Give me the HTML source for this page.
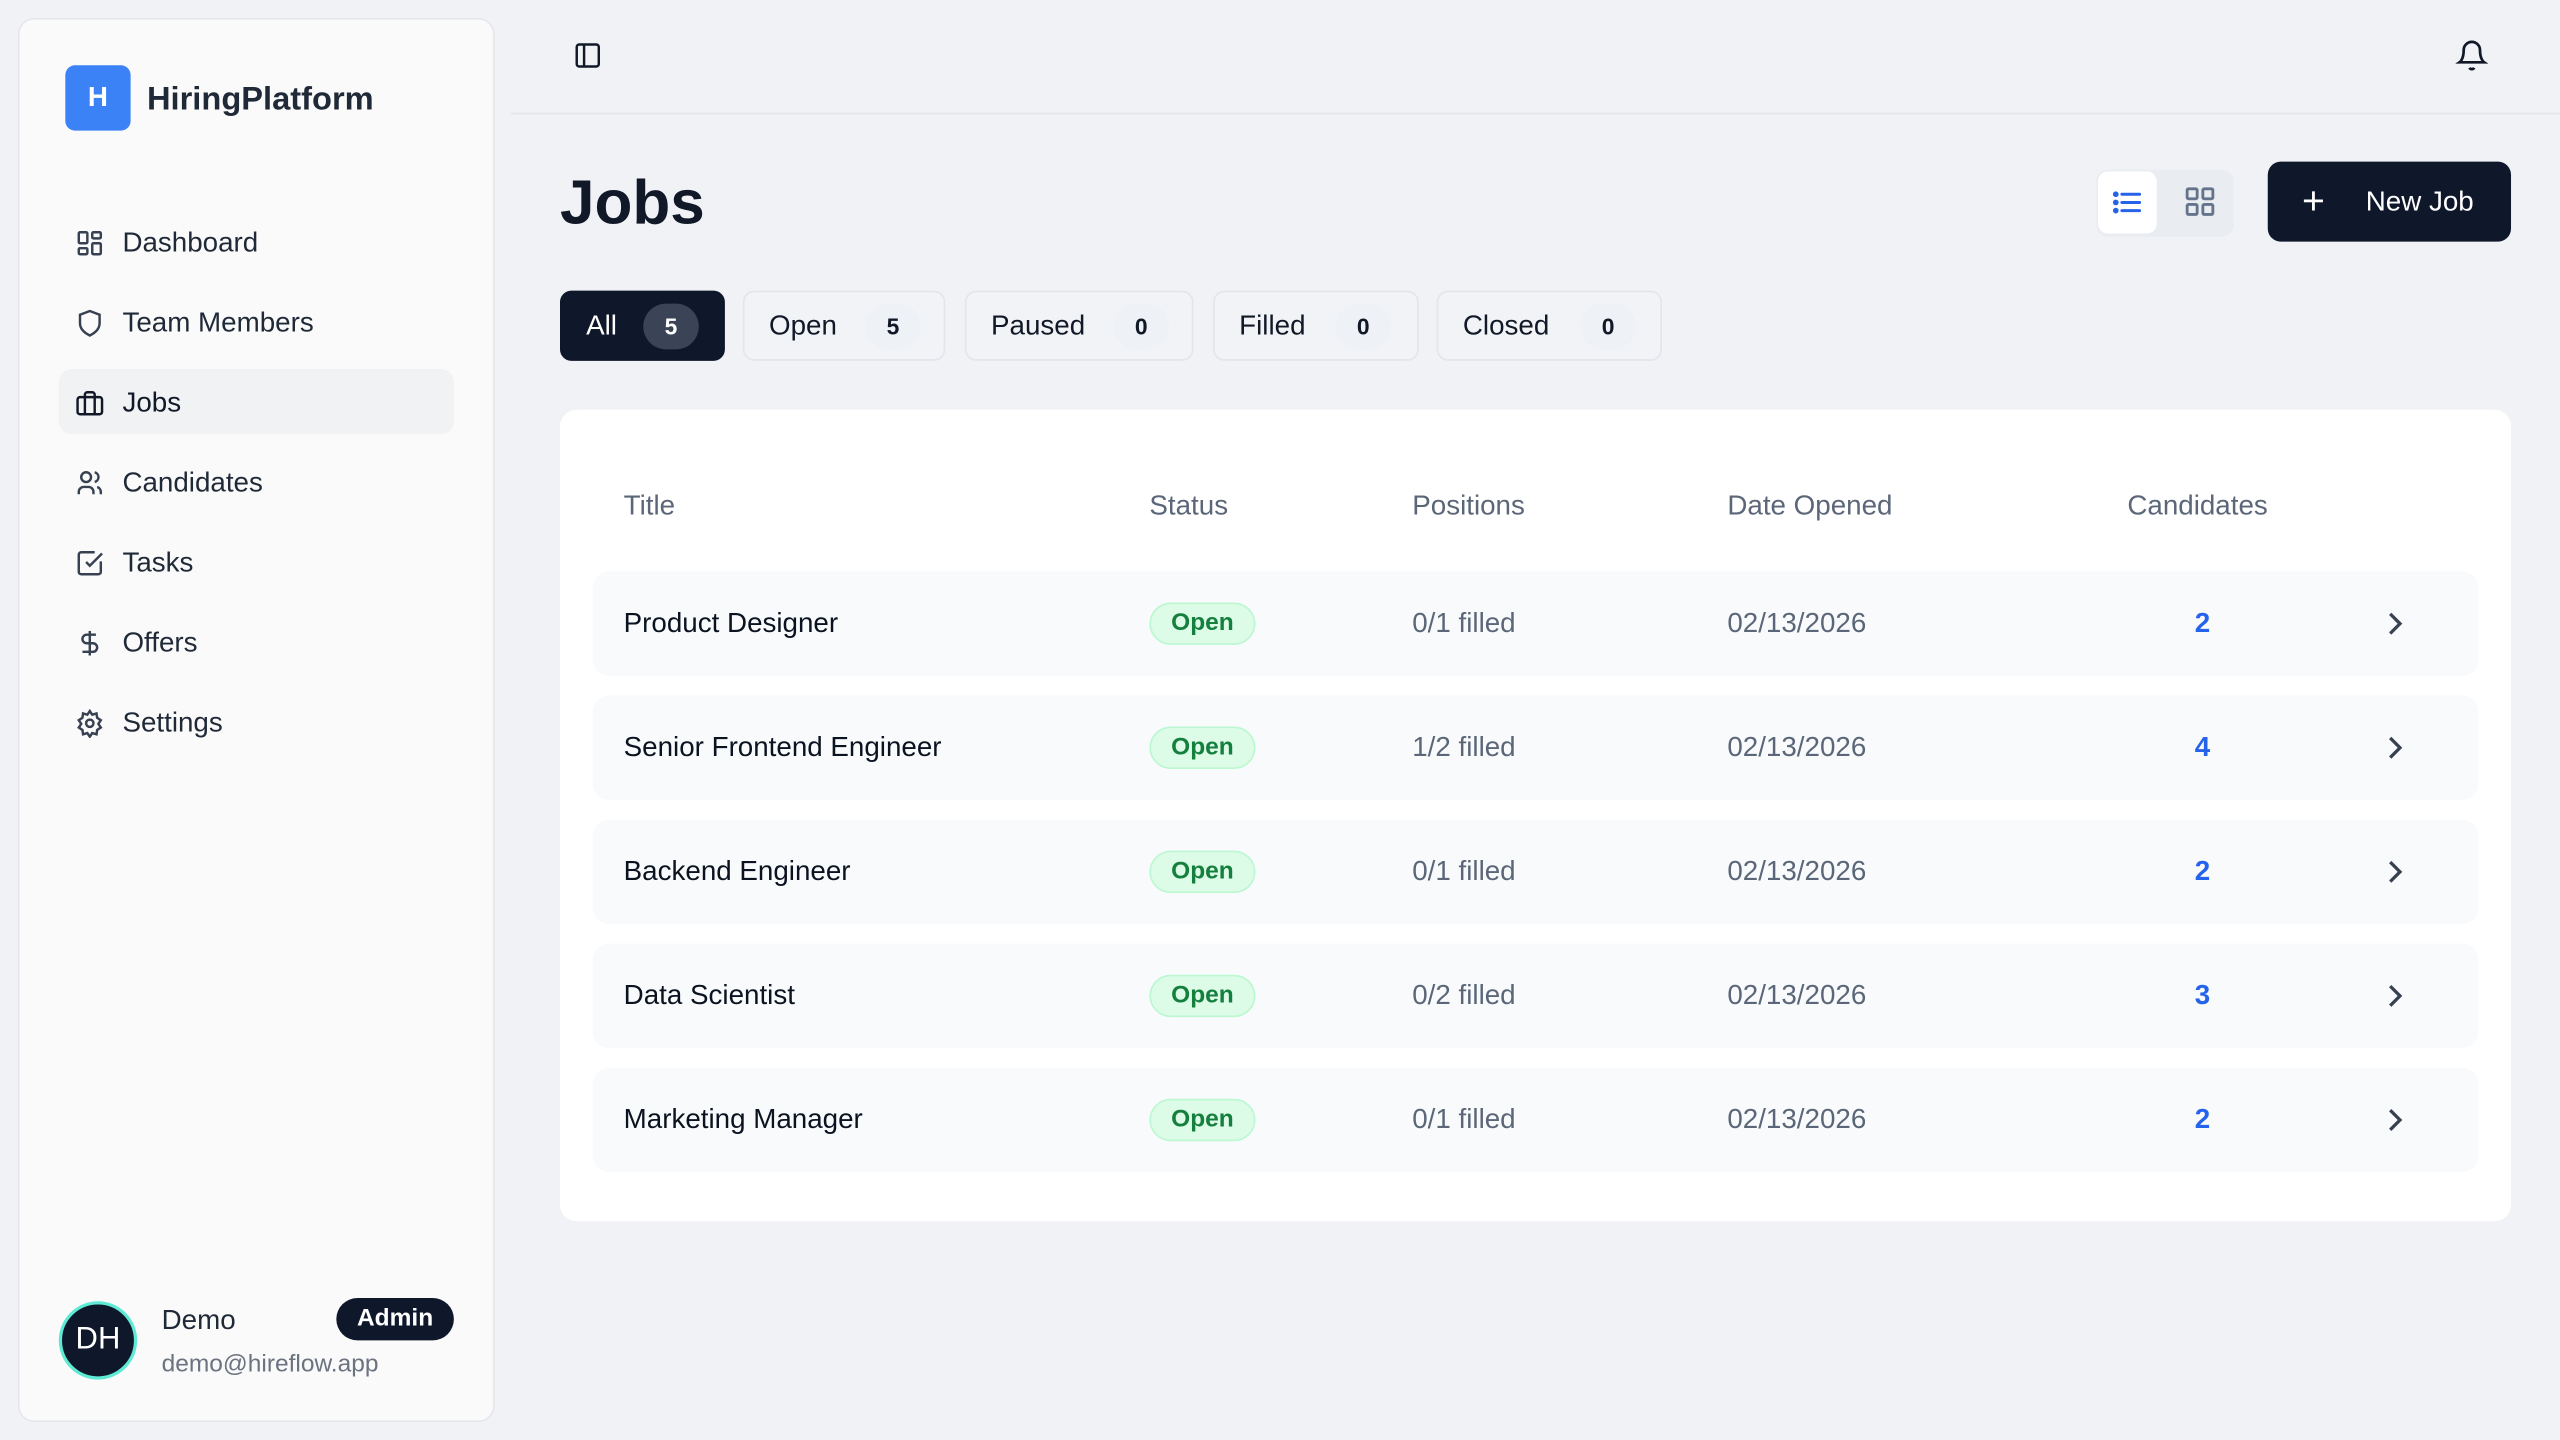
<!DOCTYPE html>
<html><head><meta charset="utf-8"><style>
*{box-sizing:border-box;margin:0;padding:0}
html,body{width:2560px;height:1440px;overflow:hidden;background:#f0f2f5}
#w{width:1568px;height:882px;position:relative;transform:scale(1.632653);transform-origin:0 0;font-family:"Liberation Sans",sans-serif;color:#111827}
.a{position:absolute}
.side{left:11px;top:11px;width:292px;height:860px;background:#fafafa;border:1px solid #e5e7eb;border-radius:10px}
.nav{position:absolute;left:46px;height:20px;font-size:17px;color:#1f2937;display:flex;align-items:center;gap:11px}
.nav svg{width:18px;height:18px}
.tab{position:absolute;top:178px;height:43px;border:1px solid #e2e5ea;background:#f1f3f6;border-radius:7px;font-size:17px;color:#111827;display:flex;align-items:center;padding-left:15px}
.cnt{position:absolute;width:34px;height:28px;border-radius:14px;background:#eef1f5;font-size:14px;font-weight:700;display:flex;align-items:center;justify-content:center;top:7px}
.th{position:absolute;top:300px;font-size:17px;color:#5b6779}
.row{position:absolute;left:363px;width:1155px;height:64px;background:#f8fafc;border-radius:10px}
.row div{position:absolute;top:0;height:64px;display:flex;align-items:center;font-size:17px}
.t{left:19px;color:#0b1220}
.b{left:341px}
.b span{display:inline-block;width:65px;height:26px;border-radius:13px;background:#dcfce7;border:1px solid #bbf7d0;color:#15803d;font-weight:700;font-size:15px;text-align:center;line-height:24px}
.p{left:502px;color:#5b6779}
.d{left:695px;color:#5b6779}
.c{left:966px;width:40px;justify-content:center;color:#2563eb;font-weight:700}
.ch{left:1097px}
</style></head><body><div id="w">
<div class="a side"></div>
<div class="a" style="left:40px;top:40px;width:40px;height:40px;background:#3b82f6;border-radius:6px;color:#fff;font-weight:700;font-size:17px;text-align:center;line-height:40px">H</div>
<div class="a" style="left:90px;top:50px;font-size:20px;font-weight:700;color:#1f2937">HiringPlatform</div>
<div class="a" style="left:36px;top:226px;width:242px;height:40px;background:#f1f2f4;border-radius:8px"></div>
<div class="nav" style="top:139px"><svg viewBox="0 0 24 24" fill="none" stroke="#374151" stroke-width="2"><rect x="3" y="3" width="7" height="9" rx="1"/><rect x="14" y="3" width="7" height="5" rx="1"/><rect x="14" y="12" width="7" height="9" rx="1"/><rect x="3" y="16" width="7" height="5" rx="1"/></svg>Dashboard</div>
<div class="nav" style="top:188px"><svg viewBox="0 0 24 24" fill="none" stroke="#374151" stroke-width="2"><path d="M12 2l8 3v7c0 5-4 8-8 10-4-2-8-5-8-10V5z"/></svg>Team Members</div>
<div class="nav" style="top:237px;color:#111827"><svg viewBox="0 0 24 24" fill="none" stroke="#111827" stroke-width="2"><rect x="2" y="7" width="20" height="14" rx="2"/><path d="M16 21V5a2 2 0 0 0-2-2h-4a2 2 0 0 0-2 2v16"/></svg>Jobs</div>
<div class="nav" style="top:286px"><svg viewBox="0 0 24 24" fill="none" stroke="#374151" stroke-width="2"><circle cx="9" cy="7" r="4"/><path d="M3 21v-2a4 4 0 0 1 4-4h4a4 4 0 0 1 4 4v2M16 3.1a4 4 0 0 1 0 7.8M21 21v-2a4 4 0 0 0-3-3.9"/></svg>Candidates</div>
<div class="nav" style="top:335px"><svg viewBox="0 0 24 24" fill="none" stroke="#374151" stroke-width="2"><path d="M21 10.5V19a2 2 0 0 1-2 2H5a2 2 0 0 1-2-2V5a2 2 0 0 1 2-2h11"/><path d="M9 11l3 3L22 4"/></svg>Tasks</div>
<div class="nav" style="top:384px"><svg viewBox="0 0 24 24" fill="none" stroke="#374151" stroke-width="2"><path d="M12 2v20M17 5H9.5a3.5 3.5 0 0 0 0 7h5a3.5 3.5 0 0 1 0 7H6"/></svg>Offers</div>
<div class="nav" style="top:433px"><svg viewBox="0 0 24 24" fill="none" stroke="#374151" stroke-width="2"><circle cx="12" cy="12" r="3"/><path d="M12 2l2 3 3.5-1 .5 3.5 3 2-2 3 2 3-3 2-.5 3.5-3.5-1-2 3-2-3-3.5 1L6 17.5l-3-2 2-3-2-3 3-2L6.5 4 10 5z"/></svg>Settings</div>
<div class="a" style="left:36px;top:797px;width:48px;height:48px;border-radius:50%;background:#0f172a;border:2px solid #5eead4;color:#fff;font-size:19px;text-align:center;line-height:44px">DH</div>
<div class="a" style="left:99px;top:799px;font-size:17px;color:#1f2937">Demo</div>
<div class="a" style="left:206px;top:795px;width:72px;height:26px;border-radius:13px;background:#0f172a;color:#fff;font-size:15px;font-weight:700;text-align:center;line-height:26px">Admin</div>
<div class="a" style="left:99px;top:827px;font-size:15px;color:#6b7280">demo@hireflow.app</div>
<svg class="a" style="left:351px;top:25px" width="18" height="18" viewBox="0 0 24 24" fill="none" stroke="#111827" stroke-width="2"><rect x="3" y="3" width="18" height="18" rx="2"/><path d="M9 3v18"/></svg>
<svg class="a" style="left:1504px;top:24px" width="20" height="20" viewBox="0 0 24 24" fill="none" stroke="#111827" stroke-width="2"><path d="M6 8a6 6 0 0 1 12 0c0 7 3 9 3 9H3s3-2 3-9M10.3 21a1.9 1.9 0 0 0 3.4 0"/></svg>
<div class="a" style="left:313px;top:69px;width:1255px;height:1px;background:#e2e5e9"></div>
<div class="a" style="left:343px;top:104px;font-size:38px;font-weight:700;color:#111827">Jobs</div>
<div class="a" style="left:1284px;top:104px;width:84px;height:41px;background:#e9ecf0;border-radius:7px"></div>
<div class="a" style="left:1285px;top:105px;width:36px;height:38px;background:#fff;border-radius:6px"></div>
<svg class="a" style="left:1293px;top:114px" width="20" height="20" viewBox="0 0 24 24" fill="none" stroke="#2563eb" stroke-width="2.2" stroke-linecap="round"><path d="M8 6h13M8 12h13M8 18h13"/><circle cx="3.5" cy="6" r="1" fill="#2563eb"/><circle cx="3.5" cy="12" r="1" fill="#2563eb"/><circle cx="3.5" cy="18" r="1" fill="#2563eb"/></svg>
<svg class="a" style="left:1337px;top:113px" width="21" height="21" viewBox="0 0 24 24" fill="none" stroke="#64748b" stroke-width="2"><rect x="3" y="3" width="7" height="7" rx="1"/><rect x="14" y="3" width="7" height="7" rx="1"/><rect x="14" y="14" width="7" height="7" rx="1"/><rect x="3" y="14" width="7" height="7" rx="1"/></svg>
<div class="a" style="left:1389px;top:99px;width:149px;height:49px;background:#0f172a;border-radius:8px;color:#fff;font-size:17px"><span class="a" style="left:21px;top:11px;font-size:24px;font-weight:300">+</span><span class="a" style="left:60px;top:15px">New Job</span></div>
<div class="tab" style="left:343px;width:101px;background:#0f172a;border-color:#0f172a;color:#fff">All<div class="cnt" style="left:50px;background:#3b4456;color:#fff">5</div></div>
<div class="tab" style="left:455px;width:124px">Open<div class="cnt" style="left:74px">5</div></div>
<div class="tab" style="left:591px;width:140px">Paused<div class="cnt" style="left:90px">0</div></div>
<div class="tab" style="left:743px;width:126px">Filled<div class="cnt" style="left:74px">0</div></div>
<div class="tab" style="left:880px;width:138px">Closed<div class="cnt" style="left:87px">0</div></div>
<div class="a" style="left:343px;top:251px;width:1195px;height:497px;background:#fff;border-radius:10px"></div>
<div class="th" style="left:382px">Title</div><div class="th" style="left:704px">Status</div><div class="th" style="left:865px">Positions</div><div class="th" style="left:1058px">Date Opened</div><div class="th" style="left:1303px">Candidates</div>
<div class="row" style="top:350px"><div class="t">Product Designer</div><div class="b"><span>Open</span></div><div class="p">0/1 filled</div><div class="d">02/13/2026</div><div class="c">2</div><div class="ch"><svg width="14" height="16" viewBox="0 0 14 16" fill="none" stroke="#374151" stroke-width="2"><path d="M4 2l6 6-6 6"/></svg></div></div>
<div class="row" style="top:426px"><div class="t">Senior Frontend Engineer</div><div class="b"><span>Open</span></div><div class="p">1/2 filled</div><div class="d">02/13/2026</div><div class="c">4</div><div class="ch"><svg width="14" height="16" viewBox="0 0 14 16" fill="none" stroke="#374151" stroke-width="2"><path d="M4 2l6 6-6 6"/></svg></div></div>
<div class="row" style="top:502px"><div class="t">Backend Engineer</div><div class="b"><span>Open</span></div><div class="p">0/1 filled</div><div class="d">02/13/2026</div><div class="c">2</div><div class="ch"><svg width="14" height="16" viewBox="0 0 14 16" fill="none" stroke="#374151" stroke-width="2"><path d="M4 2l6 6-6 6"/></svg></div></div>
<div class="row" style="top:578px"><div class="t">Data Scientist</div><div class="b"><span>Open</span></div><div class="p">0/2 filled</div><div class="d">02/13/2026</div><div class="c">3</div><div class="ch"><svg width="14" height="16" viewBox="0 0 14 16" fill="none" stroke="#374151" stroke-width="2"><path d="M4 2l6 6-6 6"/></svg></div></div>
<div class="row" style="top:654px"><div class="t">Marketing Manager</div><div class="b"><span>Open</span></div><div class="p">0/1 filled</div><div class="d">02/13/2026</div><div class="c">2</div><div class="ch"><svg width="14" height="16" viewBox="0 0 14 16" fill="none" stroke="#374151" stroke-width="2"><path d="M4 2l6 6-6 6"/></svg></div></div>
</div></body></html>
